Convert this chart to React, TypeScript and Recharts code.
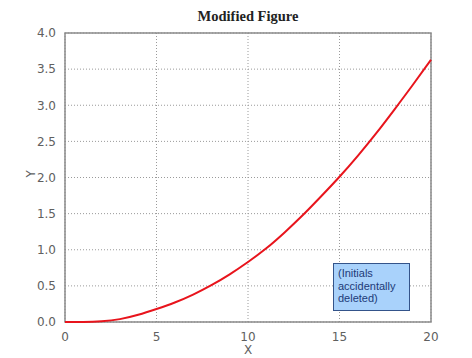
import React from "react";
import { LineChart, Line, XAxis, YAxis, CartesianGrid, ReferenceArea } from "recharts";

const xValues = [0, 1, 2, 3, 4, 5, 6, 7, 8, 9, 10, 11, 12, 13, 14, 15, 16, 17, 18, 19, 20];
const yValues = [0, 0, 0.01, 0.04, 0.1, 0.18, 0.27, 0.38, 0.51, 0.66, 0.83, 1.02, 1.24, 1.48, 1.74, 2.01, 2.3, 2.61, 2.94, 3.28, 3.63];
const xTicks = [0, 5, 10, 15, 20];
const yTicks = [0, 0.5, 1, 1.5, 2, 2.5, 3, 3.5, 4];
const titleText = "Modified Figure";
const noteLines = ["(Initials", "accidentally", "deleted)"];

const data = xValues.map((x, i) => ({ x, y: yValues[i] }));

const tickStyle = { fontFamily: "DejaVu Sans, sans-serif", fontSize: 12, fill: "#606060" };

export default function App() {
  return (
    <div style={{ position: "relative", width: 472, height: 358, margin: "-8px 0 0 -8px", background: "#ffffff", overflow: "hidden" }}>
      <div style={{ position: "absolute", left: 0, top: 0, width: 472, height: 8, background: "#cfcfcf" }} />
      <div style={{ position: "absolute", left: 0, top: 0, width: 3, height: 358, background: "#cfcfcf" }} />
      <div style={{ position: "absolute", left: 0, top: 0 }}>
        <LineChart width={472} height={358} data={data} margin={{ top: 33, right: 41, left: 25, bottom: 6 }}>
          <text x={248} y={21} textAnchor="middle" style={{ fontFamily: "Liberation Serif, serif", fontSize: 14.5, fontWeight: "bold", fill: "#222" }}>
            {titleText}
          </text>
          <CartesianGrid stroke="#9a9a9a" strokeDasharray="1 2" />
          <XAxis
            dataKey="x"
            type="number"
            domain={[0, 20]}
            ticks={xTicks}
            tick={tickStyle}
            tickLine={false}
            axisLine={false}
            tickMargin={4}
            height={30}
            label={{ value: "X", position: "insideBottom", offset: -2, style: { fontFamily: "DejaVu Sans, sans-serif", fontSize: 12, fill: "#606060" } }}
          />
          <YAxis
            type="number"
            domain={[0, 4]}
            ticks={yTicks}
            tick={tickStyle}
            tickFormatter={(v: number) => v.toFixed(1)}
            tickLine={false}
            axisLine={false}
            tickMargin={3}
            width={40}
            label={{ value: "Y", angle: -90, position: "insideLeft", offset: 6, style: { fontFamily: "DejaVu Sans, sans-serif", fontSize: 12, fill: "#606060" } }}
          />
          <ReferenceArea x1={0} x2={20} y1={0} y2={4} fill="none" stroke="#8a8a8a" strokeWidth={1.5} fillOpacity={0} ifOverflow="visible" />
          <Line type="natural" dataKey="y" stroke="#e8141c" strokeWidth={2} dot={false} isAnimationActive={false} />
        </LineChart>
      </div>
      <div
        style={{
          position: "absolute",
          left: 333,
          top: 263,
          width: 77,
          height: 48,
          background: "#a9d2fb",
          border: "1px solid #34548a",
          boxSizing: "border-box",
          padding: "3px 0 0 4px",
          fontFamily: "Liberation Sans, Arial, sans-serif",
          fontSize: 11,
          lineHeight: "12.5px",
          color: "#1d3a78",
        }}
      >
        {noteLines.map((l, i) => (
          <div key={i}>{l}</div>
        ))}
      </div>
    </div>
  );
}
